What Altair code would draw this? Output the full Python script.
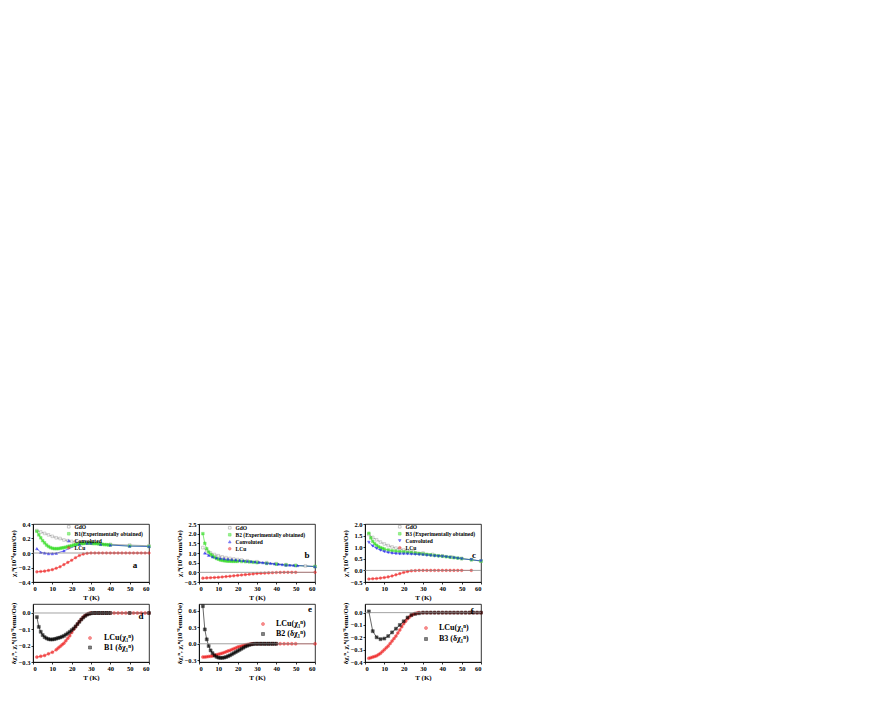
import altair as alt
import pandas as pd

X_TICKS = [0, 10, 20, 30, 40, 50, 60]

# ---------- panel a ----------
a_gdo_T = [2, 4, 6, 8, 10, 12, 14, 16, 18, 20, 22, 24, 26, 28, 30, 35, 40, 50, 60]
a_gdo_v = [0.31, 0.29, 0.27, 0.25, 0.23, 0.21, 0.20, 0.18, 0.17, 0.16, 0.15, 0.14, 0.14, 0.14, 0.14, 0.13, 0.12, 0.11, 0.10]
a_b_T = [2, 3, 4, 5, 6, 7, 8, 9, 10, 11, 12, 13, 14, 15, 16, 17, 18, 19, 20, 21, 22, 23, 24, 25, 26, 27, 28, 29, 30,
         31, 32, 33, 34, 35, 36, 37, 38, 39, 40, 50, 60]
a_b_v = [0.30, 0.25, 0.21, 0.17, 0.14, 0.11, 0.09, 0.075, 0.065, 0.06, 0.06, 0.06, 0.065, 0.07, 0.075, 0.08, 0.09, 0.095,
         0.10, 0.11, 0.115, 0.12, 0.125, 0.13, 0.13, 0.135, 0.135, 0.135, 0.135, 0.13, 0.13, 0.13, 0.125, 0.12, 0.12,
         0.115, 0.115, 0.11, 0.11, 0.095, 0.09]
a_conv_T = [2, 4, 6, 8, 10, 12, 16, 24, 28, 30, 35, 40, 50, 60]
a_conv_v = [0.06, 0.01, 0.0, -0.01, -0.01, -0.005, 0.03, 0.12, 0.135, 0.135, 0.12, 0.11, 0.095, 0.09]
a_lcu_T = [2, 4, 6, 8, 10, 12, 14, 16, 18, 20, 22, 24, 26, 28, 30, 32, 34, 36, 38, 40, 42, 44, 46, 48, 50, 52, 54, 56, 58, 60]
a_lcu_v = [-0.26, -0.255, -0.25, -0.24, -0.23, -0.21, -0.19, -0.16, -0.13, -0.10, -0.065, -0.035, -0.015, -0.005, 0, 0,
           0, 0, 0, 0, 0, 0, 0, 0, 0, 0, 0, 0, 0, 0]

# ---------- panel b ----------
b_gdo_T = [2, 4, 6, 8, 10, 12, 14, 16, 18, 20, 22, 25, 30, 35, 40, 45, 50, 55, 60]
b_gdo_v = [1.28, 1.12, 1.0, 0.92, 0.86, 0.8, 0.76, 0.72, 0.69, 0.66, 0.64, 0.6, 0.55, 0.5, 0.45, 0.4, 0.36, 0.33, 0.3]
b_b_T = [2, 3, 4, 5, 6, 7, 8, 9, 10, 11, 12, 13, 14, 15, 16, 17, 18, 19, 20, 22, 24, 26, 28, 30, 35, 40, 45, 50, 60]
b_b_v = [2.0, 1.5, 1.22, 1.05, 0.93, 0.85, 0.78, 0.72, 0.68, 0.64, 0.62, 0.6, 0.59, 0.58, 0.58, 0.57, 0.57, 0.57, 0.57,
         0.56, 0.55, 0.54, 0.52, 0.5, 0.46, 0.42, 0.38, 0.35, 0.3]
b_conv_T = [3, 5, 7, 9, 11, 13, 15, 17, 19, 21, 23, 25, 27, 29, 31, 33, 35, 37, 39, 41, 43, 45, 47, 49, 51, 60]
b_conv_v = [1.0, 0.88, 0.8, 0.75, 0.72, 0.7, 0.68, 0.66, 0.64, 0.62, 0.6, 0.58, 0.56, 0.54, 0.52, 0.5, 0.48, 0.46, 0.44,
            0.42, 0.4, 0.38, 0.37, 0.36, 0.35, 0.3]
b_lcu_T = [2, 4, 6, 8, 10, 12, 14, 16, 18, 20, 22, 24, 26, 28, 30, 32, 34, 36, 38, 40, 42, 44, 46, 48, 50, 60]
b_lcu_v = [-0.3, -0.29, -0.28, -0.27, -0.26, -0.24, -0.22, -0.2, -0.18, -0.16, -0.14, -0.12, -0.1, -0.08, -0.06, -0.05,
           -0.04, -0.03, -0.02, -0.01, -0.005, 0, 0, 0, 0, 0]

# ---------- panel c ----------
c_gdo_T = [2, 4, 6, 8, 10, 12, 14, 16, 18, 20, 22, 25, 30, 35, 40, 45, 50, 55, 60]
c_gdo_v = [1.55, 1.42, 1.32, 1.22, 1.14, 1.07, 1.01, 0.96, 0.92, 0.88, 0.85, 0.81, 0.75, 0.69, 0.63, 0.57, 0.51, 0.46, 0.4]
c_b_T = [2, 3, 4, 5, 6, 7, 8, 9, 10, 12, 14, 16, 18, 20, 22, 24, 26, 28, 30, 32, 34, 36, 38, 40, 42, 44, 46, 48, 50, 55, 60]
c_b_v = [1.6, 1.4, 1.25, 1.15, 1.08, 1.02, 0.98, 0.95, 0.92, 0.88, 0.85, 0.83, 0.81, 0.8, 0.78, 0.77, 0.75, 0.73, 0.71,
         0.69, 0.67, 0.65, 0.63, 0.61, 0.59, 0.57, 0.55, 0.53, 0.51, 0.46, 0.4]
c_conv_T = [2, 4, 6, 8, 10, 12, 14, 16, 18, 20, 22, 24, 26, 28, 30, 32, 34, 36, 38, 40, 42, 44, 46, 48, 50, 55, 60]
c_conv_v = [1.21, 1.05, 0.95, 0.87, 0.81, 0.77, 0.74, 0.72, 0.71, 0.71, 0.71, 0.7, 0.69, 0.68, 0.67, 0.65, 0.64, 0.62,
            0.61, 0.6, 0.58, 0.56, 0.54, 0.52, 0.5, 0.46, 0.41]
c_lcu_T = [2, 4, 6, 8, 10, 12, 14, 16, 18, 20, 22, 24, 26, 28, 30, 32, 34, 36, 38, 40, 42, 44, 46, 48, 50, 55]
c_lcu_v = [-0.37, -0.36, -0.35, -0.33, -0.31, -0.28, -0.24, -0.19, -0.14, -0.09, -0.05, -0.02, -0.01, 0, 0, 0, 0, 0, 0,
           0, 0, 0, 0, 0, 0, 0]

# ---------- panel d ----------
d_lcu_T = [2, 4, 6, 8, 10, 12, 13, 14, 15, 16, 17, 18, 19, 20, 21, 22, 23, 24, 25, 26, 27, 28, 29, 30,
           32, 34, 36, 38, 40, 42, 44, 46, 48, 50, 52, 54, 56, 58, 60]
d_lcu_v = [-0.27, -0.265, -0.26, -0.25, -0.24, -0.225, -0.215, -0.205, -0.195, -0.185, -0.17, -0.155, -0.14, -0.12,
           -0.1, -0.085, -0.068, -0.052, -0.038, -0.025, -0.015, -0.008, -0.003, 0,
           0, 0, 0, 0, 0, 0, 0, 0, 0, 0, 0, 0, 0, 0, 0]
d_b_T = [2, 3, 4, 5, 6, 7, 8, 9, 10, 11, 12, 13, 14, 15, 16, 17, 18, 19, 20, 21, 22, 23, 24, 25, 26, 27, 28, 29, 30,
         31, 32, 33, 34, 35, 36, 37, 38, 39, 40, 50, 60]
d_b_v = [-0.025, -0.085, -0.115, -0.135, -0.148, -0.155, -0.16, -0.162, -0.162, -0.16, -0.157, -0.153, -0.15, -0.145,
         -0.14, -0.132, -0.124, -0.115, -0.105, -0.095, -0.082, -0.068, -0.054, -0.04, -0.028, -0.018, -0.01, -0.005,
         -0.002, 0, 0, 0, 0, 0, 0, 0, 0, 0, 0, 0, 0]

# ---------- panel e ----------
e_lcu_T = [2, 3, 4, 5, 6, 7, 8, 9, 10, 11, 12, 13, 14, 15, 16, 17, 18, 19, 20, 21, 22, 23, 24, 25, 26, 27,
           28, 30, 32, 34, 36, 38, 40, 42, 44, 46, 48, 50, 60]
e_lcu_v = [-0.24, -0.24, -0.235, -0.23, -0.225, -0.22, -0.21, -0.2, -0.19, -0.18, -0.17, -0.16, -0.145, -0.13, -0.12,
           -0.105, -0.09, -0.075, -0.06, -0.05, -0.04, -0.03, -0.02, -0.013, -0.008, -0.004,
           0, 0, 0, 0, 0, 0, 0, 0, 0, 0, 0, 0, 0]
e_b_T = [2, 3, 4, 5, 6, 7, 8, 9, 10, 11, 12, 13, 14, 15, 16, 17, 18, 19, 20, 21, 22, 23, 24, 25, 26, 27, 28,
         29, 30, 31, 32, 33, 34, 35, 36, 37, 38, 39, 40]
e_b_v = [0.68, 0.26, 0.08, -0.04, -0.12, -0.17, -0.21, -0.235, -0.25, -0.255, -0.255, -0.25, -0.24, -0.225, -0.21,
         -0.19, -0.17, -0.15, -0.13, -0.11, -0.09, -0.07, -0.05, -0.035, -0.02, -0.01, -0.005,
         0, 0, 0, 0, 0, 0, 0, 0, 0, 0, 0, 0]

# ---------- panel f ----------
f_lcu_T = [2, 3, 4, 5, 6, 7, 8, 9, 10, 11, 12, 13, 14, 15, 16, 17, 18, 19, 20, 21, 22, 23, 24, 25, 26, 27, 28,
           30, 32, 34, 36, 38, 40, 42, 44, 46, 48, 50, 52, 54, 56, 58, 60]
f_lcu_v = [-0.37, -0.365, -0.36, -0.355, -0.35, -0.34, -0.33, -0.315, -0.3, -0.285, -0.27, -0.25, -0.23, -0.21, -0.19,
           -0.165, -0.14, -0.115, -0.09, -0.07, -0.05, -0.035, -0.022, -0.013, -0.007, -0.003, 0,
           0, 0, 0, 0, 0, 0, 0, 0, 0, 0, 0, 0, 0, 0, 0, 0]
f_b_T = [2, 4, 6, 8, 10, 12, 14, 16, 18, 20, 22, 24, 26, 28, 30, 32, 34, 36, 38, 40, 42, 44, 46, 48, 50, 52, 54, 56, 58, 60]
f_b_v = [0.01, -0.15, -0.2, -0.215, -0.21, -0.19, -0.16, -0.13, -0.1, -0.07, -0.04, -0.02, -0.01, -0.005, 0, 0, 0, 0,
         0, 0, 0, 0, 0, 0, 0, 0, 0, 0, 0, 0]

FONT = "Liberation Serif"
Y_TOP = "χ₁ⁿ(10⁻⁴emu/Oe)"
Y_BOT = "δχ₁ⁿ, χ₁ⁿ(10⁻⁴emu/Oe)"
W, H = 116, 58


def panel(series, ydom, yticks, ytitle, legx, legy, legfont, loff, rowpad, symsize, letter, lx, ly):
    rows = []
    for name, T, V, _c, _f, _s in series:
        for t, v in zip(T, V):
            rows.append({"T": t, "v": v, "s": name})
    df = pd.DataFrame(rows)
    names = [s[0] for s in series]
    strokes = [s[3] for s in series]
    fills = [s[4] for s in series]
    shapes = [s[5] for s in series]
    leg = alt.Legend(orient="none", legendX=legx, legendY=legy, title=None, labelFont=FONT,
                     labelFontWeight="bold", labelFontSize=legfont, symbolSize=symsize, rowPadding=rowpad,
                     padding=0, labelOffset=loff, labelLimit=300, symbolStrokeWidth=0.6)
    x = alt.X("T:Q", scale=alt.Scale(domain=[0, 60], nice=False),
              axis=alt.Axis(values=X_TICKS, title="T (K)", format="d", labelOverlap=False))
    y = alt.Y("v:Q", scale=alt.Scale(domain=ydom, nice=False, zero=False),
              axis=alt.Axis(values=yticks, title=ytitle, format=".1f", labelOverlap=False,
                            labelFlush=False, labelBound=False))
    st = alt.Stroke("s:N", scale=alt.Scale(domain=names, range=strokes), legend=leg)
    fi = alt.Fill("s:N", scale=alt.Scale(domain=names, range=fills), legend=leg)
    sh = alt.Shape("s:N", scale=alt.Scale(domain=names, range=shapes), legend=leg)
    zero = alt.Chart(pd.DataFrame({"v": [0.0]})).mark_rule(color="#8c8c8c", strokeWidth=0.8).encode(y=y)
    lines = alt.Chart(df).mark_line(strokeWidth=0.6).encode(x=x, y=y, stroke=st, detail="s:N")
    pts = alt.Chart(df).mark_point(filled=True, size=symsize, strokeWidth=0.5).encode(
        x=x, y=y, stroke=st, fill=fi, shape=sh)
    txt = alt.Chart(pd.DataFrame({"t": [letter]})).mark_text(
        font=FONT, fontSize=9, fontWeight="bold", color="black").encode(
        x=alt.value(lx), y=alt.value(ly), text="t:N")
    return alt.layer(lines, pts, zero, txt).properties(width=W, height=H)


GREY, GREEN, BLUE, RED = "#808080", "#33dd22", "#1a1aee", "#ee2222"

pa = panel([
    ("GdO", a_gdo_T, a_gdo_v, GREY, "white", "square"),
    ("B1(Experimentally obtained)", a_b_T, a_b_v, GREEN, GREEN, "square"),
    ("Convoluted", a_conv_T, a_conv_v, BLUE, BLUE, "triangle-up"),
    ("LCu", a_lcu_T, a_lcu_v, RED, RED, "circle"),
], [-0.4, 0.4], [-0.4, -0.2, 0.0, 0.2, 0.4], Y_TOP, 33, 0, 5.5, 3, -1, 7, "a", 102, 41)

pb = panel([
    ("GdO", b_gdo_T, b_gdo_v, GREY, "white", "square"),
    ("B2 (Experimentally obtained)", b_b_T, b_b_v, GREEN, GREEN, "square"),
    ("Convoluted", b_conv_T, b_conv_v, BLUE, BLUE, "triangle-up"),
    ("LCu", b_lcu_T, b_lcu_v, RED, RED, "circle"),
], [-0.5, 2.5], [-0.5, 0.0, 0.5, 1.0, 1.5, 2.0, 2.5], Y_TOP, 28, 1, 5.5, 3, -1, 7, "b", 108, 31)

pc = panel([
    ("GdO", c_gdo_T, c_gdo_v, GREY, "white", "square"),
    ("B3 (Experimentally obtained)", c_b_T, c_b_v, GREEN, GREEN, "square"),
    ("Convoluted", c_conv_T, c_conv_v, BLUE, BLUE, "triangle-down"),
    ("LCu", c_lcu_T, c_lcu_v, RED, RED, "circle"),
], [-0.5, 2.0], [-0.5, 0.0, 0.5, 1.0, 1.5, 2.0], Y_TOP, 32, 0, 5.5, 3, -1, 7, "c", 109, 31)

pd_ = panel([
    ("LCu(χ₁ⁿ)", d_lcu_T, d_lcu_v, RED, RED, "circle"),
    ("B1 (δχ₁ⁿ)", d_b_T, d_b_v, "black", "black", "square"),
], [-0.3, 0.055], [-0.3, -0.2, -0.1, 0.0], Y_BOT, 53, 30, 8, 10, 1.5, 9, "d", 108, 12)

pe = panel([
    ("LCu(χ₁ⁿ)", e_lcu_T, e_lcu_v, RED, RED, "circle"),
    ("B2 (δχ₁ⁿ)", e_b_T, e_b_v, "black", "black", "square"),
], [-0.33, 0.72], [-0.3, 0.0, 0.3, 0.6], Y_BOT, 60, 16, 8, 9, 2, 9, "e", 111, 5)

pf = panel([
    ("LCu(χ₁ⁿ)", f_lcu_T, f_lcu_v, RED, RED, "circle"),
    ("B3 (δχ₁ⁿ)", f_b_T, f_b_v, "black", "black", "square"),
], [-0.4, 0.07], [-0.4, -0.3, -0.2, -0.1, 0.0], Y_BOT, 57, 20, 8, 9, 3, 9, "f", 107, 7)

ind = dict(stroke="independent", fill="independent", shape="independent")
row1 = alt.hconcat(pa, pb, pc, spacing=22).resolve_scale(**ind).resolve_legend(**ind)
row2 = alt.hconcat(pd_, pe, pf, spacing=22).resolve_scale(**ind).resolve_legend(**ind)

chart = alt.vconcat(row1, row2, spacing=0).resolve_scale(**ind).resolve_legend(**ind).properties(
    padding={"left": 0, "top": 512, "right": 0, "bottom": 0}
).configure_view(stroke="black", strokeWidth=0.8).configure_axis(
    labelFont=FONT, labelFontWeight="bold", labelFontSize=6.5, labelPadding=1, labelColor="black",
    titleFont=FONT, titleFontWeight="bold", titleFontSize=7, titlePadding=2, titleColor="black",
    tickSize=2, tickColor="black", domainColor="black", domainWidth=0.8, tickWidth=0.8, grid=False
)

chart.save("out.html", embed_options={"renderer": "svg", "actions": False})
